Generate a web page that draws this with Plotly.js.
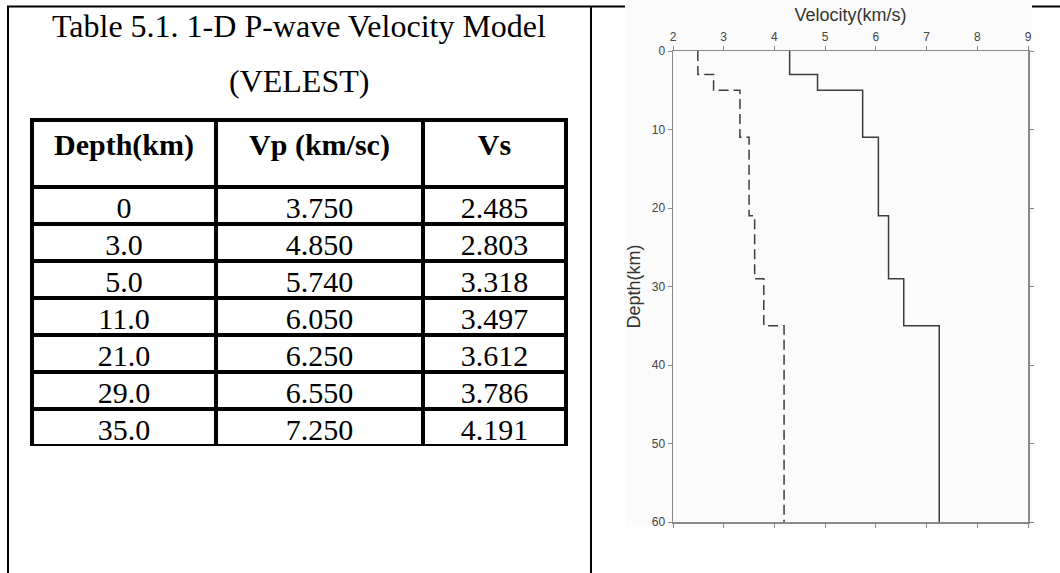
<!DOCTYPE html>
<html>
<head>
<meta charset="utf-8">
<script src="https://cdn.plot.ly/plotly-3.0.1.min.js"></script>
<style>html,body{margin:0;padding:0;background:#fff;}#chart{width:1060px;height:573px;}</style>
</head>
<body>
<div id="chart"></div>
<script>
// ---- Table data ----
const tableTitle = "Table 5.1. 1-D P-wave Velocity Model";
const tableSubtitle = "(VELEST)";
const tableHeaders = ["Depth(km)", "Vp (km/sc)", "Vs"];
const tableDepth = ["0", "3.0", "5.0", "11.0", "21.0", "29.0", "35.0"];
const tableVp = ["3.750", "4.850", "5.740", "6.050", "6.250", "6.550", "7.250"];
const tableVs = ["2.485", "2.803", "3.318", "3.497", "3.612", "3.786", "4.191"];

// ---- Chart data ----
const layerTop = [0, 3, 5, 11, 21, 29, 35, 60];
const vpPlot = [4.3, 4.85, 5.74, 6.05, 6.25, 6.55, 7.25, 7.25];
const vsPlot = [2.49, 2.80, 3.32, 3.50, 3.61, 3.79, 4.19, 4.19];
const velTicks = [2, 3, 4, 5, 6, 7, 8, 9];
const depthTicks = [0, 10, 20, 30, 40, 50, 60];

const W = 1060, H = 573;
const px = v => v / W;
const py = v => 1 - v / H;

const axisGray = '#8a8a8a';
const tickFont = {family: 'Liberation Sans, Arial, sans-serif', size: 12, color: '#444'};
const serif = 'Liberation Serif, Times New Roman, serif';

const traces = [
  {
    type: 'table',
    domain: {x: [px(32), px(566)], y: [py(446), py(120)]},
    columnwidth: [184, 207, 143],
    header: {
      values: tableHeaders.map(h => '<b>' + h + '</b>'),
      height: 67,
      align: 'center',
      line: {color: '#000', width: 4},
      fill: {color: '#fff'},
      font: {family: serif, size: 30, color: '#000'}
    },
    cells: {
      values: [tableDepth, tableVp, tableVs],
      height: 37,
      align: 'center',
      line: {color: '#000', width: 4},
      fill: {color: '#fff'},
      font: {family: serif, size: 30, color: '#000'}
    }
  },
  {
    type: 'scatter', mode: 'lines', name: 'Vp',
    x: vpPlot, y: layerTop,
    line: {shape: 'vh', color: '#3c3c3c', width: 1.5},
    xaxis: 'x', yaxis: 'y', showlegend: false, hoverinfo: 'x+y'
  },
  {
    type: 'scatter', mode: 'lines', name: 'Vs',
    x: vsPlot, y: layerTop,
    line: {shape: 'vh', color: '#3c3c3c', width: 1.5, dash: '10px,5px'},
    xaxis: 'x', yaxis: 'y', showlegend: false, hoverinfo: 'x+y'
  }
];

const layout = {
  width: W, height: H,
  margin: {l: 0, r: 0, t: 0, b: 0},
  paper_bgcolor: '#fff',
  plot_bgcolor: 'rgba(0,0,0,0)',
  showlegend: false,
  xaxis: {
    domain: [px(673), px(1028)],
    range: [2, 9],
    side: 'top',
    tickvals: velTicks,
    ticks: 'outside', ticklen: 4, tickcolor: axisGray, tickwidth: 1,
    showline: true, linecolor: axisGray, linewidth: 1.5, mirror: 'allticks',
    showgrid: false, zeroline: false,
    tickfont: tickFont,
    title: {text: 'Velocity(km/s)', font: {family: 'Liberation Sans, Arial, sans-serif', size: 18, color: '#333'}, standoff: 3},
    fixedrange: true
  },
  yaxis: {
    domain: [py(522), py(51)],
    range: [60, 0],
    tickvals: depthTicks,
    ticks: 'outside', ticklen: 4, tickcolor: axisGray, tickwidth: 1,
    showline: true, linecolor: axisGray, linewidth: 1.5, mirror: 'allticks',
    showgrid: false, zeroline: false,
    tickfont: tickFont,
    title: {text: 'Depth(km)', font: {family: 'Liberation Sans, Arial, sans-serif', size: 18, color: '#333'}, standoff: 6},
    fixedrange: true
  },
  shapes: [
    // document frame
    {type: 'line', xref: 'paper', yref: 'paper', x0: px(8), x1: px(8), y0: py(6), y1: py(573), line: {color: '#000', width: 2}},
    {type: 'line', xref: 'paper', yref: 'paper', x0: px(7), x1: px(625), y0: py(6.5), y1: py(6.5), line: {color: '#000', width: 2}},
    {type: 'line', xref: 'paper', yref: 'paper', x0: px(1032), x1: px(1060), y0: py(6.5), y1: py(6.5), line: {color: '#000', width: 2}},
    {type: 'line', xref: 'paper', yref: 'paper', x0: px(591), x1: px(591), y0: py(6), y1: py(573), line: {color: '#000', width: 2}},
    // pasted chart image background
    {type: 'rect', xref: 'paper', yref: 'paper', x0: px(625), x1: px(1032), y0: py(0), y1: py(527), fillcolor: '#fbfbfb', line: {width: 0}, layer: 'below'}
  ],
  annotations: [
    {xref: 'paper', yref: 'paper', x: px(299), y: py(26), text: tableTitle, showarrow: false,
     font: {family: serif, size: 32, color: '#000'}, xanchor: 'center', yanchor: 'middle'},
    {xref: 'paper', yref: 'paper', x: px(299), y: py(81), text: tableSubtitle, showarrow: false,
     font: {family: serif, size: 32, color: '#000'}, xanchor: 'center', yanchor: 'middle'}
  ]
};

Plotly.newPlot('chart', traces, layout, {displayModeBar: false, staticPlot: true});
</script>
</body>
</html>
